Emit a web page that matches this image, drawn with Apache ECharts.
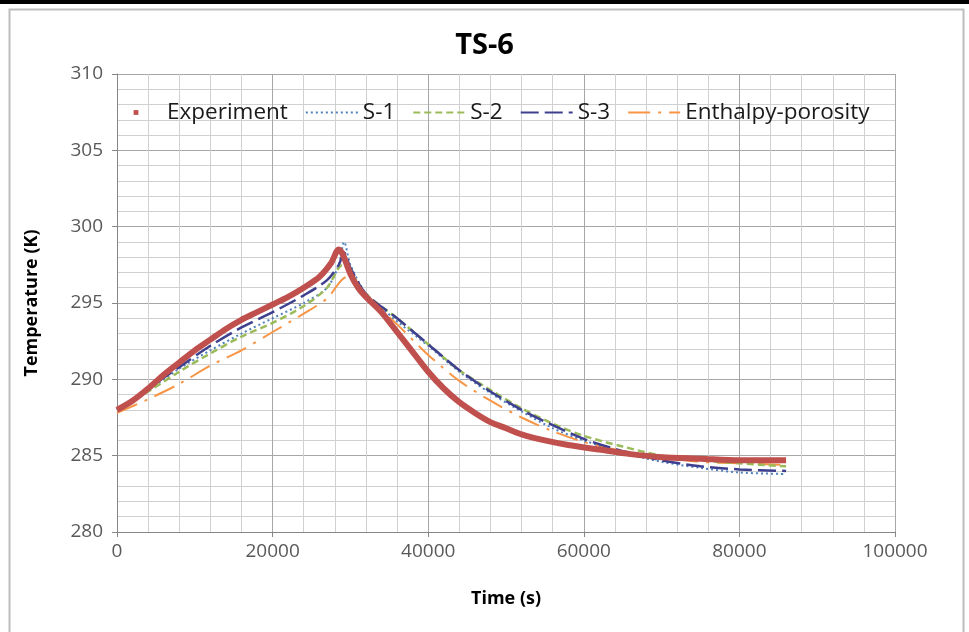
<!DOCTYPE html>
<html>
<head>
<meta charset="utf-8">
<script src="https://cdn.jsdelivr.net/npm/echarts@6/dist/echarts.min.js"></script>
<style>html,body{margin:0;padding:0;background:#fff}#c{width:969px;height:632px}</style>
</head>
<body>
<div id="c"></div>
<script>
// Data (time in s, temperature in K)
const experiment = [[0,288.0],[2000,288.6],[4000,289.4],[6000,290.3],[8000,291.1],[10000,291.9],[12000,292.6],[14000,293.3],[16000,293.9],[18000,294.4],[20000,294.9],[22000,295.4],[24000,296.0],[26000,296.7],[27500,297.6],[28500,298.5],[29000,298.2],[30000,296.9],[31000,296.0],[32000,295.4],[34000,294.4],[36000,293.1],[38000,291.8],[40000,290.5],[42000,289.4],[44000,288.5],[46000,287.8],[48000,287.2],[50000,286.8],[52000,286.4],[55000,286.0],[58000,285.7],[62000,285.4],[66000,285.1],[70000,284.9],[75000,284.8],[80000,284.7],[86000,284.7]];
const s1 = [[0,288.0],[4000,289.3],[8000,290.7],[12000,291.9],[16000,293.0],[20000,294.0],[24000,295.0],[27000,296.0],[28500,297.5],[29200,299.0],[30000,297.5],[32000,295.6],[34000,294.7],[36000,293.8],[40000,292.2],[44000,290.5],[48000,289.1],[52000,287.9],[56000,286.8],[60000,286.0],[65000,285.2],[70000,284.6],[75000,284.2],[80000,283.9],[86000,283.8]];
const s2 = [[0,288.0],[4000,289.2],[8000,290.5],[12000,291.7],[16000,292.8],[20000,293.7],[24000,294.8],[27000,296.0],[29000,297.5],[30000,297.0],[32000,295.6],[36000,294.0],[40000,292.3],[44000,290.6],[48000,289.3],[52000,288.1],[56000,287.1],[60000,286.3],[65000,285.6],[70000,285.0],[75000,284.7],[80000,284.5],[86000,284.3]];
const s3 = [[0,288.0],[4000,289.4],[8000,290.8],[12000,292.2],[16000,293.4],[20000,294.4],[24000,295.5],[27000,296.5],[28500,297.5],[29200,298.3],[30000,297.3],[32000,295.6],[36000,294.0],[40000,292.3],[44000,290.6],[48000,289.2],[52000,288.0],[56000,287.0],[60000,286.1],[65000,285.3],[70000,284.7],[75000,284.3],[80000,284.1],[86000,284.0]];
const enthalpy = [[0,287.8],[4000,288.7],[8000,289.7],[12000,290.9],[16000,291.9],[20000,293.1],[24000,294.3],[27000,295.3],[29500,296.7],[30500,296.3],[32000,295.5],[36000,293.6],[40000,291.6],[44000,289.9],[48000,288.6],[52000,287.5],[56000,286.6],[60000,285.9],[65000,285.3],[70000,284.9],[75000,284.6],[80000,284.5],[86000,284.4]];
const seriesNames = ['Experiment','S-1','S-2','S-3','Enthalpy-porosity'];

const FONT = 'Open Sans';
const chart = echarts.init(document.getElementById('c'), null, {renderer:'canvas'});
const noSym = {opacity:0};
chart.setOption({
  backgroundColor:'#ffffff',
  animation:false,
  textStyle:{fontFamily:FONT},
  graphic:[
    {type:'rect', shape:{x:0,y:0,width:969,height:4}, style:{fill:'#000'}, z:100},
    {type:'rect', shape:{x:9.5,y:9.5,width:954,height:640}, style:{fill:'none',stroke:'#bdbdbd',lineWidth:2}, z:100}
  ],
  title:{text:'TS-6', left:'center', top:26, textStyle:{fontFamily:FONT,fontSize:29,fontWeight:'bold',color:'#000'}},
  legend:{
    left:104, top:96, itemWidth:52, itemHeight:6, itemGap:17,
    textStyle:{fontFamily:FONT,fontSize:22.5,color:'#1a1a1a'},
    data:[{name:'Experiment', lineStyle:{opacity:0}},
          {name:'S-1', itemStyle:noSym},
          {name:'S-2', itemStyle:noSym},
          {name:'S-3', itemStyle:noSym},
          {name:'Enthalpy-porosity', itemStyle:noSym}]
  },
  grid:{left:117,right:74,top:74,bottom:100,containLabel:false},
  xAxis:{
    type:'value', min:0, max:100000, interval:20000,
    name:'Time (s)', nameLocation:'middle', nameGap:58,
    nameTextStyle:{fontFamily:FONT,fontSize:18,fontWeight:'bold',color:'#000'},
    axisLine:{show:true,lineStyle:{color:'#868686',width:1}},
    axisTick:{show:true,inside:false,length:5,lineStyle:{color:'#868686'}},
    axisLabel:{fontFamily:FONT,fontSize:19,color:'#595959',margin:10,formatter:function(v){return String(v);}},
    splitLine:{show:true,lineStyle:{color:'#a6a6a6',width:1}},
    minorTick:{show:false,splitNumber:5},
    minorSplitLine:{show:true,lineStyle:{color:'#d0d0d0',width:1}}
  },
  yAxis:{
    type:'value', min:280, max:310, interval:5,
    name:'Temperature (K)', nameLocation:'middle', nameGap:76,
    nameTextStyle:{fontFamily:FONT,fontSize:18,fontWeight:'bold',color:'#000'},
    axisLine:{show:true,lineStyle:{color:'#868686',width:1}},
    axisTick:{show:true,inside:false,length:5,lineStyle:{color:'#868686'}},
    axisLabel:{fontFamily:FONT,fontSize:19,color:'#595959',margin:14},
    splitLine:{show:true,lineStyle:{color:'#a6a6a6',width:1}},
    minorTick:{show:false,splitNumber:5},
    minorSplitLine:{show:true,lineStyle:{color:'#d0d0d0',width:1}}
  },
  series:[
    {name:seriesNames[0], type:'line', data:experiment, smooth:0.3, symbol:'rect', symbolSize:6, showSymbol:false,
     itemStyle:{color:'#C0504D'}, lineStyle:{color:'#C0504D',width:6}, z:5},
    {name:seriesNames[1], type:'line', data:s1, smooth:0.3, symbol:'none',
     itemStyle:{color:'#4F81BD'}, lineStyle:{color:'#4F81BD',width:2,type:[2,3]}, z:3},
    {name:seriesNames[2], type:'line', data:s2, smooth:0.3, symbol:'none',
     itemStyle:{color:'#9BBB59'}, lineStyle:{color:'#9BBB59',width:2.5,type:[7,4]}, z:3},
    {name:seriesNames[3], type:'line', data:s3, smooth:0.3, symbol:'none',
     itemStyle:{color:'#3F3F8F'}, lineStyle:{color:'#3F3F8F',width:2.5,type:[18,6]}, z:3},
    {name:seriesNames[4], type:'line', data:enthalpy, smooth:0.3, symbol:'none',
     itemStyle:{color:'#F79646'}, lineStyle:{color:'#F79646',width:2,type:[22,8,3,8]}, z:2}
  ]
});
</script>
</body>
</html>
